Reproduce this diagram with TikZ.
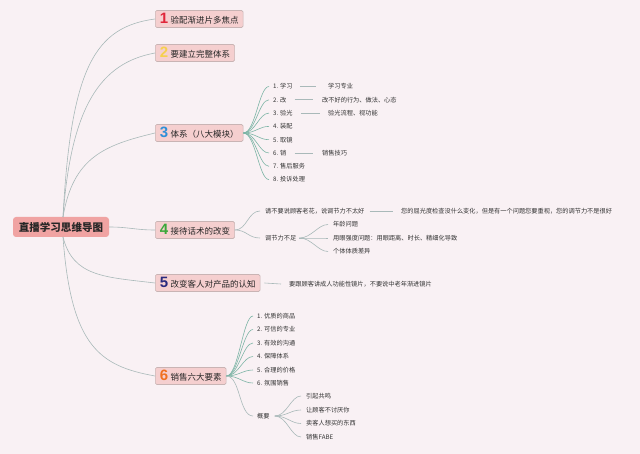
\documentclass[tikz,border=0pt]{standalone}
\usepackage{fontspec}
\setmainfont{Noto Sans CJK SC}
\newfontfamily\numfont{Liberation Sans}
\definecolor{bgc}{HTML}{F9F1F4}
\definecolor{rootfill}{HTML}{F0A3A2}
\definecolor{mainfill}{HTML}{F5CFCF}
\definecolor{mainborder}{HTML}{C9B4B4}
\definecolor{lgray}{HTML}{A9B9B9}
\definecolor{lteal}{HTML}{7DB5A6}
\definecolor{txt}{HTML}{333333}
\definecolor{cone}{HTML}{E0263A}
\definecolor{ctwo}{HTML}{F6D04D}
\definecolor{cthree}{HTML}{2E8FD8}
\definecolor{cfour}{HTML}{3AA83A}
\definecolor{cfive}{HTML}{2A2A7E}
\definecolor{csix}{HTML}{F07020}
\newcommand{\bignum}[2]{{\numfont\bfseries\fontsize{15}{15}\selectfont\textcolor{#1}{#2}}\hspace{2.5pt}}
\tikzset{
  rootbox/.style={fill=rootfill, rounded corners=3pt, minimum height=20pt, inner xsep=6pt, font=\fontsize{10.5}{12}\selectfont\bfseries, text=black!85},
  mainbox/.style={fill=mainfill, draw=mainborder, line width=0.6pt, rounded corners=1.5pt, minimum height=17pt, inner xsep=4.5pt, inner ysep=0pt, anchor=west, font=\fontsize{8.5}{10}\selectfont, text=black!85},
  item/.style={anchor=west, inner sep=0pt, font=\fontsize{6.2}{7.4}\selectfont, text=txt},
  conn/.style={draw=lgray, line width=0.6pt},
  fan/.style={draw=lteal, line width=0.6pt},
}
\begin{document}
\begin{tikzpicture}[x=1pt,y=-1pt]
\fill[bgc] (0,0) rectangle (640,454);
\useasboundingbox (0,0) rectangle (640,454);

\node[rootbox] (root) at (61,227) {直播学习思维导图};

\node[mainbox] (n1) at (155,19) {\bignum{cone}{1}验配渐进片多焦点};
\node[mainbox] (n2) at (155,53) {\bignum{ctwo}{2}要建立完整体系};
\node[mainbox] (n3) at (155,133) {\bignum{cthree}{3}体系（八大模块）};
\node[mainbox] (n4) at (155,230) {\bignum{cfour}{4}接待话术的改变};
\node[mainbox] (n5) at (155,283) {\bignum{cfive}{5}改变客人对产品的认知};
\node[mainbox] (n6) at (155,376) {\bignum{csix}{6}销售六大要素};

\coordinate (rt) at (63,217);
\coordinate (rb) at (63,237);
\draw[conn] (rt) .. controls +(8,-150) and +(-60,8) .. (n1.west);
\draw[conn] (rt) .. controls +(8,-110) and +(-55,10) .. (n2.west);
\draw[conn] (rt) .. controls +(10,-60) and +(-50,12) .. (n3.west);
\draw[conn] (root.east) .. controls +(20,0) and +(-20,0) .. (n4.west);
\draw[conn] (rb) .. controls +(10,40) and +(-50,-6) .. (n5.west);
\draw[conn] (rb) .. controls +(8,110) and +(-55,-10) .. (n6.west);

% node 3 children
\node[item] (a1) at (273,86.5) {1. 学习};
\node[item] (a2) at (273,99.8) {2. 改};
\node[item] (a3) at (273,113.1) {3. 验光};
\node[item] (a4) at (273,126.4) {4. 装配};
\node[item] (a5) at (273,139.7) {5. 取镜};
\node[item] (a6) at (273,153) {6. 销};
\node[item] (a7) at (273,166.3) {7. 售后服务};
\node[item] (a8) at (273,179.6) {8. 投诉处理};
\foreach \i in {1,...,8}{
  \draw[fan] (n3.east) .. controls +(12,0) and +(-10,0) .. ([xshift=-4pt]a\i.west);
}
\node[item] (b1) at (328,86.5) {学习专业};
\node[item] (b2) at (322,99.8) {改不好的行为、做法、心态};
\node[item] (b3) at (328,113.1) {验光流程、视功能};
\node[item] (b6) at (322,153) {销售技巧};
\draw[conn] ([xshift=7pt]a1.east) -- ([xshift=-12pt]b1.west);
\draw[conn] ([xshift=8pt]a2.east) -- ([xshift=-9pt]b2.west);
\draw[conn] ([xshift=8pt]a3.east) -- ([xshift=-8pt]b3.west);
\draw[conn] ([xshift=8pt]a6.east) -- ([xshift=-9pt]b6.west);

% node 4 children
\node[item] (c1) at (265,211) {请不要说顾客老花，说调节力不太好};
\node[item] (c2) at (265,238) {调节力不足};
\draw[conn] (n4.east) .. controls +(12,0) and +(-12,0) .. ([xshift=-5pt]c1.west);
\draw[conn] (n4.east) .. controls +(12,0) and +(-12,0) .. ([xshift=-5pt]c2.west);
\node[item] (d1) at (401,211) {您的屈光度检查没什么变化，但是有一个问题您要重视，您的调节力不是很好};
\draw[conn] ([xshift=5pt]c1.east) -- ([xshift=-8pt]d1.west);
\node[item] (e1) at (333,224.5) {年龄问题};
\node[item] (e2) at (333,238) {用眼强度问题：用眼距离、时长、精细化导致};
\node[item] (e3) at (333,251.5) {个体体质差异};
\foreach \i in {1,2,3}{
  \draw[conn] ([xshift=3pt]c2.east) .. controls +(12,0) and +(-10,0) .. ([xshift=-5pt]e\i.west);
}

% node 5 child
\node[item] (f1) at (289,284) {要跟顾客讲成人功能性镜片，不要说中老年渐进镜片};
\draw[conn] ([xshift=4pt]n5.east) -- ([xshift=-8pt]f1.west);

% node 6 children
\node[item] (g1) at (257,316) {1. 优质的商品};
\node[item] (g2) at (257,329.5) {2. 可信的专业};
\node[item] (g3) at (257,343) {3. 有效的沟通};
\node[item] (g4) at (257,356.5) {4. 保障体系};
\node[item] (g5) at (257,370) {5. 合理的价格};
\node[item] (g6) at (257,383) {6. 氛围销售};
\node[item] (g7) at (257,416) {概要};
\foreach \i in {1,...,6}{
  \draw[fan] (n6.east) .. controls +(12,0) and +(-10,0) .. ([xshift=-4pt]g\i.west);
}
\draw[conn] (n6.east) .. controls +(14,0) and +(-14,0) .. ([xshift=-4pt]g7.west);
\node[item] (h1) at (306,396) {引起共鸣};
\node[item] (h2) at (306,410) {让顾客不讨厌你};
\node[item] (h3) at (306,423.5) {卖客人想买的东西};
\node[item] (h4) at (306,437) {销售FABE};
\foreach \i in {1,...,4}{
  \draw[conn] ([xshift=5pt]g7.east) .. controls +(12,0) and +(-10,0) .. ([xshift=-5pt]h\i.west);
}
\end{tikzpicture}
\end{document}
